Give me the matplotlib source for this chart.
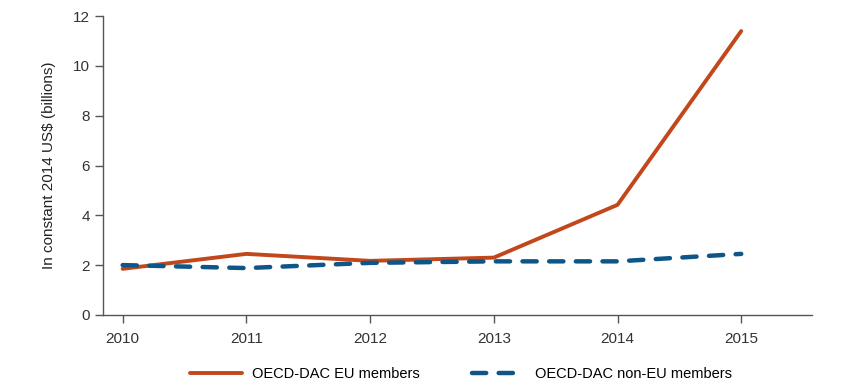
import numpy as np
import matplotlib.pyplot as plt

years = [2010, 2011, 2012, 2013, 2014, 2015]
eu_members = [1.85, 2.45, 2.17, 2.3, 4.42, 11.4]
non_eu_members = [2.0, 1.88, 2.09, 2.15, 2.15, 2.45]

plt.rcParams['font.family'] = ['Liberation Sans', 'DejaVu Sans']

orange = '#C2471B'
blue = '#0E5688'
grey = '#555555'

fig = plt.figure(figsize=(8.5, 3.84), dpi=100)
ax = fig.add_axes([0.121, 0.180, 0.834, 0.778])

ax.plot(years, eu_members, color=orange, lw=2.8, solid_capstyle='round',
        solid_joinstyle='miter', label='OECD-DAC EU members')
ax.plot(years, non_eu_members, color=blue, lw=3.2, dashes=(3.2, 2.8),
        dash_capstyle='round', label='OECD-DAC non-EU members')

ax.set_xlim(2009.84, 2015.57)
ax.set_ylim(0, 12)
ax.set_xticks(years)
ax.set_yticks(np.arange(0, 13, 2))

for side in ['top', 'right']:
    ax.spines[side].set_visible(False)
for side in ['left', 'bottom']:
    ax.spines[side].set_color(grey)
    ax.spines[side].set_linewidth(1.0)
ax.tick_params(axis='both', colors=grey, labelcolor='#333333', labelsize=11,
               length=6, width=1.0)
ax.tick_params(axis='x', pad=6)

ax.set_ylabel('In constant 2014 US$ (billions)', fontsize=11, color='#222222',
              labelpad=12)

ax.legend(loc='center', bbox_to_anchor=(0.505, -0.197), ncol=2, frameon=False,
          fontsize=10.5, handlelength=3.6, columnspacing=3.6, handletextpad=0.7)

plt.savefig('out.png', dpi=100)
